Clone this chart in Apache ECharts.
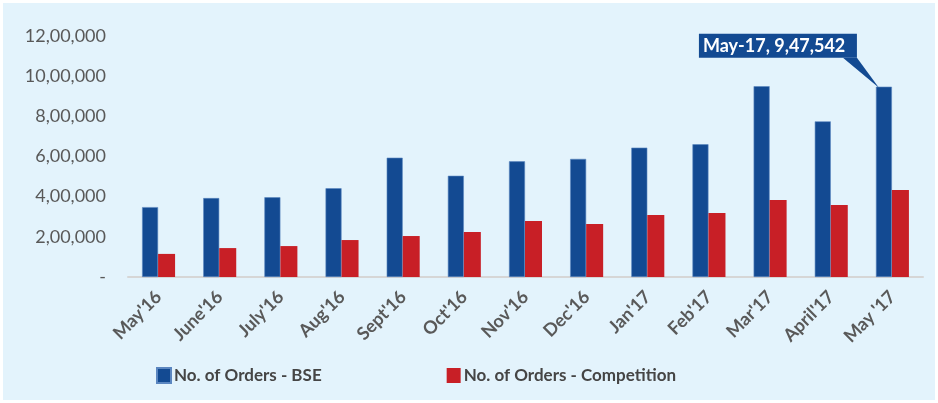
<!DOCTYPE html>
<html>
<head>
<meta charset="utf-8">
<script src="https://cdn.jsdelivr.net/npm/echarts@6/dist/echarts.min.js"></script>
<style>
html,body{margin:0;padding:0;background:#ffffff;}
#wrap{position:relative;width:938px;height:403px;}
#bg{position:absolute;left:3px;top:3px;right:3px;bottom:3px;background:#e3f3fc;}
#c{position:absolute;left:0;top:0;width:938px;height:403px;}
</style>
</head>
<body>
<div id="wrap"><div id="bg"></div><div id="c"></div></div>
<script>
var categories = ["May'16","June'16","July'16","Aug'16","Sept'16","Oct'16","Nov'16","Dec'16","Jan'17","Feb'17","Mar'17","April'17","May '17"];
var ordersBSE = [348000, 393000, 397000, 442000, 594000, 504000, 576000, 588000, 644000, 661000, 950000, 775000, 947542];
var ordersCompetition = [115000, 144000, 154000, 184000, 204000, 224000, 279000, 264000, 309000, 319000, 383000, 359000, 433000];
var yTickValues = [0, 200000, 400000, 600000, 800000, 1000000, 1200000];
var yTickLabels = ["-", "2,00,000", "4,00,000", "6,00,000", "8,00,000", "10,00,000", "12,00,000"];
var seriesNames = ["No. of Orders - BSE", "No. of Orders - Competition"];
var calloutText = "May-17, 9,47,542";

var BLUE = '#134a92', RED = '#c81f26', TXT = '#595959';
var chart = echarts.init(document.getElementById('c'), null, {renderer: 'canvas'});
var lastIdx = categories.length - 1;

chart.setOption({
  backgroundColor: 'transparent',
  animation: false,
  textStyle: {fontFamily: 'Lato'},
  grid: {left: 128, right: 15, top: 36, bottom: 126, containLabel: false},
  legend: {
    data: seriesNames,
    left: 151, top: 362,
    itemWidth: 14, itemHeight: 15, itemGap: 125,
    icon: 'rect',
    textStyle: {fontFamily: 'Lato', fontWeight: 'bold', fontSize: 17, color: '#454545', padding: [0,0,0,-2]}
  },
  xAxis: {
    type: 'category',
    data: categories,
    axisLine: {show: true, lineStyle: {color: '#d6d6d6', width: 2}},
    axisTick: {show: false},
    axisLabel: {rotate: 45, margin: 17, color: TXT, fontFamily: 'Lato', fontWeight: 'bold', fontSize: 18, interval: 0}
  },
  yAxis: {
    type: 'value',
    min: 0, max: 1200000, interval: 200000,
    splitLine: {show: false},
    axisLine: {show: false},
    axisTick: {show: false},
    axisLabel: {
      margin: 22, color: TXT, fontFamily: 'Lato', fontSize: 18,
      formatter: function (v) { var i = yTickValues.indexOf(v); return i >= 0 ? yTickLabels[i] : ''; }
    }
  },
  series: [
    {
      name: seriesNames[0], type: 'bar', data: ordersBSE,
      barWidth: 16, barGap: '0%',
      itemStyle: {color: BLUE, borderColor: '#5b86c0', borderWidth: 0.6},
      markPoint: {
        symbol: 'path://M0,0 L14,0 L36,30 Z',
        symbolSize: [36, 30],
        symbolOffset: [-23, -14],
        itemStyle: {color: BLUE},
        data: [{coord: [lastIdx, ordersBSE[lastIdx]]}],
        label: {
          show: true,
          formatter: calloutText,
          position: [-144, -24],
          align: 'left', verticalAlign: 'top',
          backgroundColor: BLUE,
          color: '#ffffff', fontFamily: 'Lato', fontWeight: 'bold', fontSize: 18,
          width: 151, height: 18, padding: [3, 3, 3, 4], lineHeight: 18
        }
      }
    },
    {
      name: seriesNames[1], type: 'bar', data: ordersCompetition,
      barWidth: 17,
      itemStyle: {color: RED}
    }
  ]
});
</script>
</body>
</html>
